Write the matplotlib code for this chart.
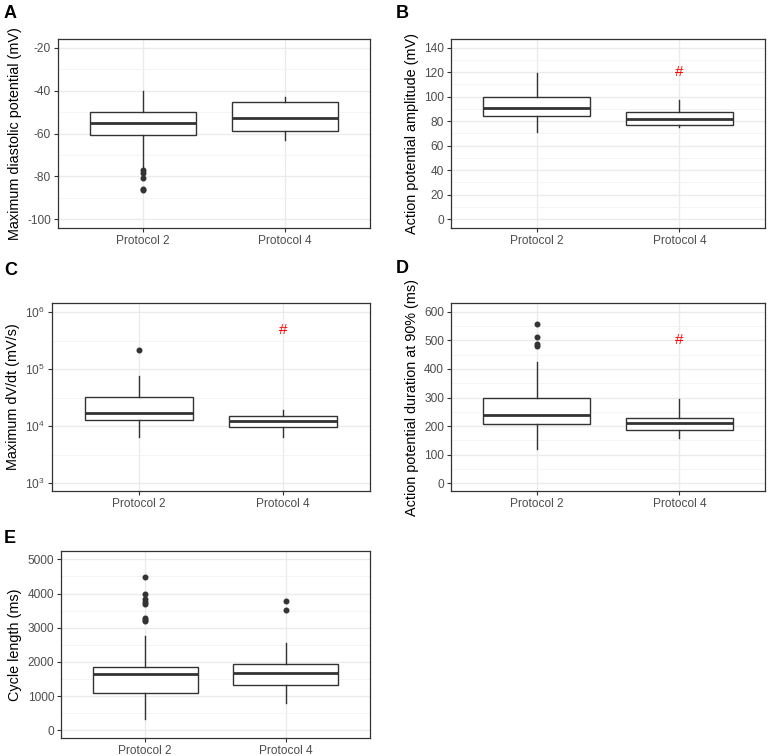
import numpy as np
import matplotlib
matplotlib.use("Agg")
import matplotlib.pyplot as plt
from matplotlib.ticker import FixedLocator, FuncFormatter

plt.rcParams['font.family'] = ['Liberation Sans', 'DejaVu Sans']
plt.rcParams['mathtext.fontset'] = 'custom'
plt.rcParams['mathtext.rm'] = 'Liberation Sans'
plt.rcParams['axes.unicode_minus'] = False

groups = ['Protocol 2', 'Protocol 4']

# A - maximum diastolic potential
mdp_q1 = [-60.5, -59.0]
mdp_med = [-55.0, -53.0]
mdp_q3 = [-50.0, -45.5]
mdp_lo = [-76.0, -63.0]
mdp_hi = [-40.0, -43.0]
mdp_out = [[-77.2, -78.5, -80.8, -85.9, -86.4], []]

# B - action potential amplitude
apa_q1 = [84.5, 77.0]
apa_med = [91.0, 82.0]
apa_q3 = [100.0, 87.0]
apa_lo = [71.0, 75.0]
apa_hi = [119.0, 97.0]
apa_out = [[], []]

# C - maximum dV/dt
dvdt_q1 = [12900, 9600]
dvdt_med = [16700, 12100]
dvdt_q3 = [32000, 15000]
dvdt_lo = [6500, 6500]
dvdt_hi = [75500, 19100]
dvdt_out = [[220000], []]

# D - APD90
apd_q1 = [207, 185]
apd_med = [239, 210]
apd_q3 = [299, 229]
apd_lo = [119, 159]
apd_hi = [425, 295]
apd_out = [[557, 513, 486, 481], []]

# E - cycle length
cl_q1 = [1107, 1330]
cl_med = [1641, 1689]
cl_q3 = [1864, 1942]
cl_lo = [330, 796]
cl_hi = [2767, 2563]
cl_out = [[4476, 3971, 3854, 3757, 3699, 3272, 3223, 3204], [3767, 3505]]

# significance marks (#) on Protocol 4
sig_b = 120
sig_c = 490000
sig_d = 500

W, H = 768, 756
fig = plt.figure(figsize=(W / 100, H / 100), dpi=100)


def make_ax(l, t, r, b):
    return fig.add_axes([l / W, 1 - b / H, (r - l) / W, (b - t) / H])


def style(ax, ylab):
    ax.set_facecolor('white')
    for s in ax.spines.values():
        s.set_color('#333333')
        s.set_linewidth(0.9)
    ax.grid(which='major', color='#EBEBEB', linewidth=1.0, zorder=0)
    ax.grid(which='minor', axis='y', color='#F2F2F2', linewidth=0.6, zorder=0)
    ax.set_axisbelow(True)
    ax.tick_params(which='major', length=3, width=0.8, color='#333333',
                   labelsize=8.6, labelcolor='#4D4D4D', pad=2)
    ax.tick_params(which='minor', length=0)
    ax.set_xlim(0.4, 2.6)
    ax.set_xticks([1, 2])
    ax.set_xticklabels(groups)
    ax.set_ylabel(ylab, fontsize=10.4, color='black', labelpad=4)


def boxes(ax, q1, med, q3, lo, hi, out):
    stats = []
    for i in range(2):
        stats.append(dict(med=med[i], q1=q1[i], q3=q3[i], whislo=lo[i],
                          whishi=hi[i], fliers=out[i], label=groups[i]))
    ax.bxp(stats, positions=[1, 2], widths=0.75, patch_artist=True,
           showfliers=True, manage_ticks=False,
           boxprops=dict(facecolor='white', edgecolor='#333333', linewidth=1.0),
           medianprops=dict(color='#333333', linewidth=2.0),
           whiskerprops=dict(color='#333333', linewidth=1.0),
           capprops=dict(linewidth=0),
           flierprops=dict(marker='o', markersize=3.3, markerfacecolor='#333333',
                           markeredgecolor='#333333'))


def letter(x, y, s):
    fig.text(x / W, 1 - y / H, s, fontsize=13, fontweight='bold', va='top', ha='left')


# A
axA = make_ax(58, 39, 370, 228)
boxes(axA, mdp_q1, mdp_med, mdp_q3, mdp_lo, mdp_hi, mdp_out)
style(axA, 'Maximum diastolic potential (mV)')
axA.set_ylim(-104, -16)
axA.set_yticks([-100, -80, -60, -40, -20])
axA.yaxis.set_minor_locator(FixedLocator([-90, -70, -50, -30]))
letter(4, 5, 'A')

# B
axB = make_ax(451, 39, 765, 228)
boxes(axB, apa_q1, apa_med, apa_q3, apa_lo, apa_hi, apa_out)
style(axB, 'Action potential amplitude (mV)')
axB.set_ylim(-7.3, 147)
axB.set_yticks(np.arange(0, 141, 20))
axB.yaxis.set_minor_locator(FixedLocator(np.arange(10, 141, 20)))
axB.text(2, sig_b, '#', color='red', fontsize=11, ha='center', va='center')
letter(396, 5, 'B')

# C
axC = make_ax(52, 303, 370, 491)
boxes(axC, dvdt_q1, dvdt_med, dvdt_q3, dvdt_lo, dvdt_hi, dvdt_out)
style(axC, 'Maximum dV/dt (mV/s)')
axC.set_yscale('log')
axC.set_ylim(10 ** 2.865, 10 ** 6.157)
axC.yaxis.set_major_locator(FixedLocator([1e3, 1e4, 1e5, 1e6]))
axC.yaxis.set_major_formatter(FuncFormatter(lambda v, p: r'$10^{%d}$' % round(np.log10(v))))
axC.yaxis.set_minor_locator(FixedLocator([10 ** 3.5, 10 ** 4.5, 10 ** 5.5]))
axC.yaxis.set_minor_formatter(FuncFormatter(lambda v, p: ''))
axC.text(2, sig_c, '#', color='red', fontsize=11, ha='center', va='center')
letter(4, 262, 'C')

# D
axD = make_ax(451, 303, 765, 491)
boxes(axD, apd_q1, apd_med, apd_q3, apd_lo, apd_hi, apd_out)
style(axD, 'Action potential duration at 90% (ms)')
axD.set_ylim(-27, 631)
axD.set_yticks(np.arange(0, 601, 100))
axD.yaxis.set_minor_locator(FixedLocator(np.arange(50, 601, 100)))
axD.text(2, sig_d, '#', color='red', fontsize=11, ha='center', va='center')
letter(396, 260, 'D')

# E
axE = make_ax(61, 551, 370, 738)
boxes(axE, cl_q1, cl_med, cl_q3, cl_lo, cl_hi, cl_out)
style(axE, 'Cycle length (ms)')
axE.set_ylim(-222, 5242)
axE.set_yticks(np.arange(0, 5001, 1000))
axE.yaxis.set_minor_locator(FixedLocator(np.arange(500, 5001, 1000)))
letter(4, 530, 'E')

fig.savefig('out.png', dpi=100, facecolor='white')
